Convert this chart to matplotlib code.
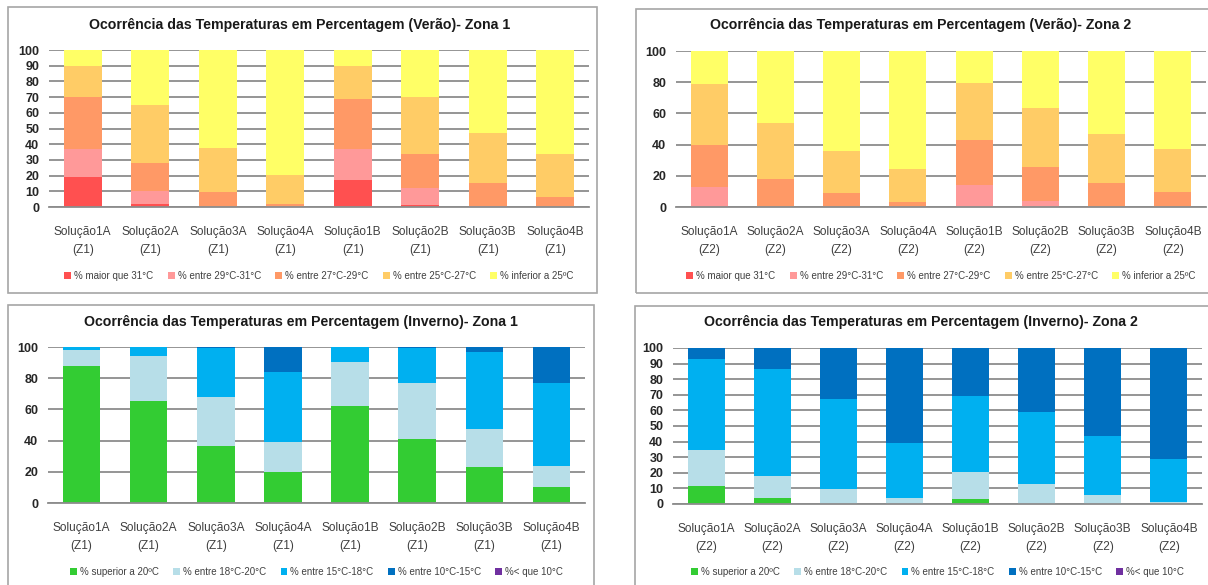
import matplotlib
matplotlib.use("Agg")
import matplotlib.pyplot as plt
import numpy as np
from matplotlib.patches import Rectangle

plt.rcParams['font.family'] = ['Liberation Sans', 'DejaVu Sans']

W, H = 1208, 585

# categorias (sufixo de zona acrescentado em cada gráfico)
solucoes = ["Solução1A", "Solução2A", "Solução3A", "Solução4A",
            "Solução1B", "Solução2B", "Solução3B", "Solução4B"]

# Verão - legendas e cores
verao_labels = ["% maior que 31°C", "% entre 29°C-31°C", "% entre 27°C-29°C",
                "% entre 25°C-27°C", "% inferior a 25ºC"]
verao_cores = ["#FF5050", "#FF9999", "#FF9966", "#FFCC66", "#FFFF66"]

# Verão Zona 1 (percentagens por intervalo)
v1_maior31 = [19.0, 2.1, 0.0, 0.0, 17.1, 1.1, 0.0, 0.0]
v1_29_31 = [17.8, 8.4, 0.0, 0.0, 19.6, 11.3, 0.6, 0.0]
v1_27_29 = [33.0, 17.8, 9.5, 2.1, 31.9, 21.6, 14.6, 6.5]
v1_25_27 = [19.9, 36.5, 28.3, 18.6, 21.5, 36.3, 31.8, 27.5]
v1_inf25 = [10.3, 35.2, 62.2, 79.3, 9.9, 29.7, 53.0, 66.0]

# Verão Zona 2
v2_maior31 = [0.0, 0.0, 0.0, 0.0, 0.0, 0.0, 0.0, 0.0]
v2_29_31 = [12.6, 0.0, 0.0, 0.0, 14.3, 3.8, 0.0, 0.0]
v2_27_29 = [27.2, 18.1, 8.7, 3.0, 28.5, 21.9, 15.3, 9.6]
v2_25_27 = [38.9, 35.9, 27.3, 21.5, 36.8, 37.9, 31.3, 27.4]
v2_inf25 = [21.3, 46.0, 64.0, 75.5, 20.4, 36.4, 53.4, 63.0]

# Inverno - legendas e cores
inverno_labels = ["% superior a 20ºC", "% entre 18°C-20°C", "% entre 15°C-18°C",
                  "% entre 10°C-15°C", "%< que 10°C"]
inverno_cores = ["#33CC33", "#B7DEE8", "#00B0F0", "#0070C0", "#7030A0"]

# Inverno Zona 1
i1_sup20 = [87.7, 65.7, 36.4, 19.6, 62.1, 41.3, 23.2, 10.0]
i1_18_20 = [10.2, 28.6, 31.3, 19.8, 28.3, 35.9, 24.5, 14.0]
i1_15_18 = [2.1, 5.7, 31.4, 44.4, 9.6, 22.2, 49.3, 53.2]
i1_10_15 = [0.0, 0.0, 0.9, 16.2, 0.0, 0.6, 3.0, 22.8]
i1_inf10 = [0.0, 0.0, 0.0, 0.0, 0.0, 0.0, 0.0, 0.0]

# Inverno Zona 2
i2_sup20 = [11.5, 4.0, 0.0, 0.0, 3.2, 0.0, 0.0, 0.0]
i2_18_20 = [22.8, 14.1, 9.8, 4.0, 17.0, 12.6, 6.0, 1.3]
i2_15_18 = [58.9, 68.3, 57.6, 35.1, 49.2, 46.3, 37.6, 27.4]
i2_10_15 = [6.8, 13.6, 32.6, 60.9, 30.6, 41.1, 56.4, 71.3]
i2_inf10 = [0.0, 0.0, 0.0, 0.0, 0.0, 0.0, 0.0, 0.0]

fig = plt.figure(figsize=(W / 100, H / 100), dpi=100)
fig.patch.set_facecolor("white")


def fig_rect(x0, y0, x1, y1):
    # converte caixa em pixels (origem no topo) para fracção da figura
    return [x0 / W, 1 - y1 / H, (x1 - x0) / W, (y1 - y0) / H]


def painel(border, plot_box, title, title_xy, series, labels, cores, zona, ystep, legend_y):
    bx0, by0, bx1, by1 = border
    fig.patches.append(Rectangle((bx0 / W, 1 - by1 / H), (bx1 - bx0) / W, (by1 - by0) / H,
                                 transform=fig.transFigure, fill=False,
                                 edgecolor="#A6A6A6", linewidth=1.2, zorder=0))
    fig.text(title_xy[0] / W, 1 - title_xy[1] / H, title, ha="center", va="center",
             fontsize=10.2, fontweight="bold", color="#1a1a1a")

    ax = fig.add_axes(fig_rect(*plot_box))
    x = np.arange(len(solucoes))
    base = np.zeros(len(solucoes))
    handles = []
    for vals, lab, cor in zip(series, labels, cores):
        b = ax.bar(x, vals, width=0.56, bottom=base, color=cor, label=lab, zorder=2)
        handles.append(b)
        base = base + np.array(vals)

    ax.set_xlim(-0.5, len(solucoes) - 0.5)
    ax.set_ylim(0, 100)
    ax.set_yticks(np.arange(0, 101, ystep))
    ax.yaxis.grid(True, color="#8C8C8C", linewidth=1.3)
    ax.set_axisbelow(True)
    for s in ["top", "right", "left"]:
        ax.spines[s].set_visible(False)
    ax.spines["bottom"].set_color("#8C8C8C")
    ax.spines["bottom"].set_linewidth(1.3)
    ax.tick_params(axis="y", length=0, labelsize=9, labelcolor="#262626", pad=7)
    ax.tick_params(axis="x", length=0, labelsize=8.6, labelcolor="#404040", pad=14)
    for t in ax.get_yticklabels():
        t.set_fontweight("bold")
    ax.set_xticks(x)
    ax.set_xticklabels([f"{s}\n({zona})" for s in solucoes], linespacing=1.6)

    cx = (plot_box[0] + plot_box[2]) / 2
    fig.legend(handles=handles, labels=labels, loc="center",
               bbox_to_anchor=(cx / W, 1 - legend_y / H), ncol=5, frameon=False,
               fontsize=7, handlelength=0.7, handleheight=0.7, handletextpad=0.3,
               columnspacing=1.5, labelcolor="#404040")
    return ax


painel((8, 7, 597, 293), (49, 50, 589, 207),
       "Ocorrência das Temperaturas em Percentagem (Verão)- Zona 1", (300, 25),
       [v1_maior31, v1_29_31, v1_27_29, v1_25_27, v1_inf25],
       verao_labels, verao_cores, "Z1", 10, 276)

painel((636, 9, 1230, 293), (676, 51, 1206, 207),
       "Ocorrência das Temperaturas em Percentagem (Verão)- Zona 2", (921, 25),
       [v2_maior31, v2_29_31, v2_27_29, v2_25_27, v2_inf25],
       verao_labels, verao_cores, "Z2", 20, 276)

painel((8, 305, 594, 610), (48, 347, 585, 503),
       "Ocorrência das Temperaturas em Percentagem (Inverno)- Zona 1", (301, 322),
       [i1_sup20, i1_18_20, i1_15_18, i1_10_15, i1_inf10],
       inverno_labels, inverno_cores, "Z1", 20, 572)

painel((635, 306, 1230, 610), (673, 348, 1202, 504),
       "Ocorrência das Temperaturas em Percentagem (Inverno)- Zona 2", (921, 322),
       [i2_sup20, i2_18_20, i2_15_18, i2_10_15, i2_inf10],
       inverno_labels, inverno_cores, "Z2", 10, 572)

fig.savefig("out.png", dpi=100, facecolor="white")
